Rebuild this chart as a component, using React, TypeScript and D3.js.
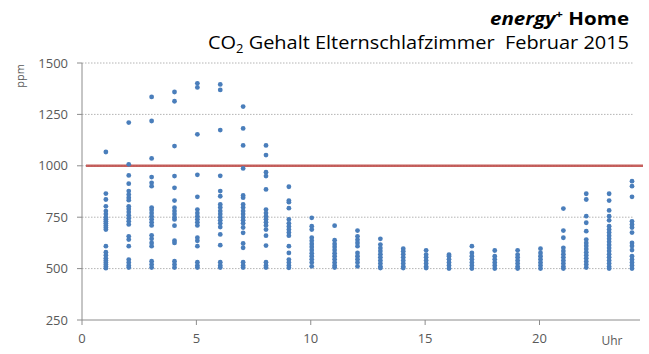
import React from "react";
import * as d3 from "d3";

// Hourly CO2 readings (ppm) for the parents' bedroom, February 2015
const hours = [1, 2, 3, 4, 5, 6, 7, 8, 9, 10, 11, 12, 13, 14, 15, 16, 17, 18, 19, 20, 21, 22, 23, 24];
const ppmByHour: number[][] = [
  [1067, 865, 836, 803, 780, 765, 750, 740, 730, 720, 710, 700, 690, 609, 580, 565, 550, 540, 530, 520, 510, 502],
  [1210, 1007, 953, 913, 877, 860, 845, 833, 803, 790, 775, 760, 745, 730, 715, 657, 641, 609, 544, 530, 515, 505],
  [1335, 1218, 1036, 945, 917, 901, 797, 785, 770, 755, 740, 725, 710, 662, 645, 625, 609, 536, 520, 505],
  [1359, 1314, 1096, 950, 893, 831, 796, 780, 765, 750, 739, 709, 636, 625, 536, 520, 505],
  [1401, 1381, 1153, 956, 849, 787, 770, 755, 740, 725, 710, 650, 635, 609, 531, 515, 505],
  [1396, 1369, 1174, 951, 877, 852, 812, 797, 780, 765, 750, 735, 720, 702, 666, 614, 531, 515, 505],
  [1288, 1182, 1099, 987, 856, 845, 812, 797, 780, 765, 750, 735, 720, 700, 674, 622, 601, 531, 515, 505],
  [1099, 1052, 969, 950, 885, 787, 770, 755, 740, 725, 710, 690, 660, 612, 531, 515, 505],
  [898, 831, 823, 794, 739, 720, 705, 690, 675, 660, 609, 576, 544, 530, 515, 504],
  [747, 706, 690, 650, 635, 620, 605, 590, 575, 560, 545, 530, 511],
  [709, 638, 620, 605, 590, 575, 560, 545, 530, 515, 505],
  [685, 657, 640, 625, 609, 576, 560, 545, 530, 511],
  [645, 617, 600, 585, 570, 555, 540, 525, 510, 503],
  [597, 584, 570, 555, 540, 525, 510, 503],
  [589, 568, 555, 540, 525, 510, 503],
  [568, 560, 545, 530, 515, 500],
  [609, 576, 560, 545, 530, 515, 500],
  [588, 560, 545, 530, 515, 500],
  [589, 568, 555, 540, 525, 510, 500],
  [597, 576, 560, 545, 530, 515, 500],
  [792, 685, 650, 601, 585, 570, 555, 540, 525, 510, 500],
  [864, 836, 755, 723, 682, 641, 625, 610, 595, 580, 565, 550, 535, 520, 505],
  [864, 831, 783, 755, 735, 706, 690, 675, 660, 645, 630, 615, 600, 585, 570, 555, 540, 525, 510, 500],
  [925, 901, 849, 730, 715, 700, 675, 625, 610, 590, 560, 544, 530, 515, 500],
];
const yTicks = [250, 500, 750, 1000, 1250, 1500];
const xTicks = [0, 5, 10, 15, 20];
const limitPpm = 1000;

const W = 649;
const H = 354;
const font = "'Open Sans', sans-serif";

export default function App() {
  const x = d3.scaleLinear().domain([0, 24]).range([82, 631]);
  const y = d3.scaleLinear().domain([250, 1500]).range([320, 63]);
  const axisColor = "#8c8c8c";
  const labelColor = "#595959";

  const points = hours.flatMap((h, i) => ppmByHour[i].map((v) => ({ h, v })));

  return (
    <svg width={W} height={H} style={{ position: "absolute", left: 0, top: 0, background: "#fff" }}>
      {/* title */}
      <text x={629} y={25} textAnchor="end" fontFamily={font} fontSize={17.5} fontWeight="bold" fill="#000" textLength={139} lengthAdjust="spacingAndGlyphs">
        <tspan fontStyle="italic">energy</tspan>
        <tspan fontSize={11} dy={-7}>+</tspan>
        <tspan dy={7}> Home</tspan>
      </text>
      <text x={629} y={49} textAnchor="end" fontFamily={font} fontSize={18.5} fill="#000" textLength={421} lengthAdjust="spacingAndGlyphs">
        CO<tspan fontSize={12} dy={4}>2</tspan>
        <tspan dy={-4}>{" Gehalt Elternschlafzimmer\u00a0 Februar 2015"}</tspan>
      </text>

      {/* horizontal gridlines */}
      {yTicks.filter((t) => t > 250).map((t) => (
        <line key={`g${t}`} x1={x(0)} x2={633} y1={y(t)} y2={y(t)} stroke="#b4b4b4" strokeWidth={1} strokeDasharray="1.5,1.5" />
      ))}

      {/* limit line */}
      <line x1={86} x2={643} y1={y(limitPpm)} y2={y(limitPpm)} stroke="#c0504d" strokeWidth={2.4} opacity={0.9} />

      {/* y axis */}
      <line x1={x(0)} x2={x(0)} y1={y(1500)} y2={y(250)} stroke={axisColor} strokeWidth={1} />
      {yTicks.map((t) => (
        <g key={`y${t}`}>
          <line x1={x(0) - 5} x2={x(0)} y1={y(t)} y2={y(t)} stroke={axisColor} strokeWidth={1} />
          <text x={68} y={y(t) + 4.5} textAnchor="end" fontFamily={font} fontSize={13} fill={labelColor}>{t}</text>
        </g>
      ))}
      <text transform="translate(24,76) rotate(-90)" textAnchor="middle" fontFamily={font} fontSize={11} fill={labelColor}>ppm</text>

      {/* x axis */}
      <line x1={x(0)} x2={640} y1={y(250)} y2={y(250)} stroke={axisColor} strokeWidth={1} />
      {xTicks.map((t) => (
        <g key={`x${t}`}>
          <line x1={x(t)} x2={x(t)} y1={y(250)} y2={y(250) + 5} stroke={axisColor} strokeWidth={1} />
          <text x={x(t)} y={343} textAnchor="middle" fontFamily={font} fontSize={13} fill={labelColor}>{t}</text>
        </g>
      ))}
      <text x={612} y={345} textAnchor="middle" fontFamily={font} fontSize={12} fill={labelColor}>Uhr</text>

      {/* readings */}
      {points.map((p, i) => (
        <circle key={i} cx={x(p.h) + 1} cy={y(p.v)} r={2.4} fill="#4a7ebb" />
      ))}
    </svg>
  );
}
